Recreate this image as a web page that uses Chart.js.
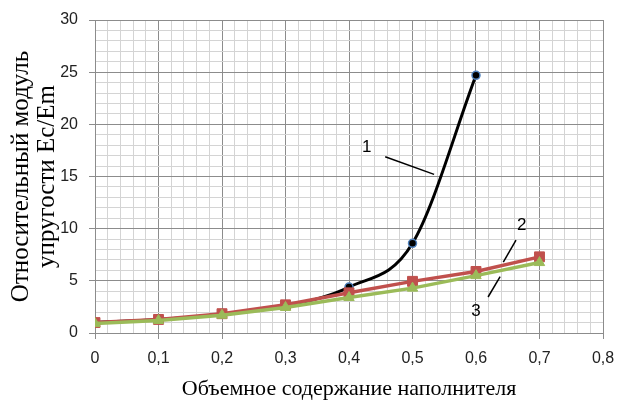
<!DOCTYPE html>
<html>
<head>
<meta charset="utf-8">
<script src="https://cdn.jsdelivr.net/npm/chart.js@4.4.1/dist/chart.umd.min.js"></script>
<style>
html,body{margin:0;padding:0;background:#fff;}
#wrap{width:617px;height:401px;}
</style>
</head>
<body>
<div id="wrap"><canvas id="c" width="617" height="401"></canvas></div>
<script>
// Data
const xValues = [0, 0.1, 0.2, 0.3, 0.4, 0.5, 0.6, 0.7];
const series1 = [1.0, 1.3, 1.8, 2.6, 4.4, 8.6, 24.7];
const series2 = [1.0, 1.3, 1.85, 2.7, 3.85, 4.95, 5.9, 7.3];
const series3 = [0.9, 1.2, 1.7, 2.45, 3.4, 4.3, 5.5, 6.75];
const seriesLabels = ['1', '2', '3'];
const xTitle = 'Объемное содержание наполнителя';
const yTitle = ['Относительный модуль', 'упругости Ес/Em'];

const toPts = (ys) => ys.map((y, i) => ({x: xValues[i], y: y}));

// annotation labels (in data units)
const notes = [
  {text: '1', tx: 0.428, ty: 17.8, line: [0.457, 16.9, 0.534, 15.2]},
  {text: '2', tx: 0.672, ty: 10.3, line: [0.663, 8.9, 0.643, 6.8]},
  {text: '3', tx: 0.600, ty: 2.1, line: [0.619, 3.45, 0.638, 5.4]}
];

const notePlugin = {
  id: 'notes',
  afterDatasetsDraw(chart) {
    const {ctx, scales: {x, y}} = chart;
    ctx.save();
    ctx.strokeStyle = '#000';
    ctx.lineWidth = 1.5;
    ctx.fillStyle = '#000';
    ctx.font = '17px "Liberation Sans", Arial, sans-serif';
    ctx.textAlign = 'center';
    ctx.textBaseline = 'middle';
    notes.forEach(n => {
      ctx.beginPath();
      ctx.moveTo(x.getPixelForValue(n.line[0]), y.getPixelForValue(n.line[1]));
      ctx.lineTo(x.getPixelForValue(n.line[2]), y.getPixelForValue(n.line[3]));
      ctx.stroke();
      ctx.fillText(n.text, x.getPixelForValue(n.tx), y.getPixelForValue(n.ty));
    });
    ctx.restore();
  }
};

const isMajorX = v => Math.abs(v * 10 - Math.round(v * 10)) < 1e-6;
const isMajorY = v => Math.abs(v / 5 - Math.round(v / 5)) < 1e-6;
const tickFont = {family: '"Liberation Sans", Arial, sans-serif', size: 16};
const titleFamily = '"Liberation Serif", "Times New Roman", serif';

new Chart(document.getElementById('c'), {
  type: 'line',
  data: {
    datasets: [
      {
        label: seriesLabels[0],
        data: toPts(series1),
        borderColor: '#000000',
        borderWidth: 3,
        pointStyle: 'circle',
        pointRadius: 4,
        pointBackgroundColor: '#000000',
        pointBorderColor: '#4F81BD',
        pointBorderWidth: 1.5,
        cubicInterpolationMode: 'monotone',
        order: 3
      },
      {
        label: seriesLabels[1],
        data: toPts(series2),
        borderColor: '#C0504D',
        borderWidth: 3.5,
        pointStyle: 'rect',
        pointRadius: 7,
        pointBackgroundColor: '#C0504D',
        pointBorderColor: '#C0504D',
        pointBorderWidth: 1,
        tension: 0,
        order: 2
      },
      {
        label: seriesLabels[2],
        data: toPts(series3),
        borderColor: '#9BBB59',
        borderWidth: 3.5,
        pointStyle: 'triangle',
        pointRadius: 6,
        pointBackgroundColor: '#9BBB59',
        pointBorderColor: '#9BBB59',
        pointBorderWidth: 1,
        tension: 0,
        order: 1
      }
    ]
  },
  options: {
    responsive: false,
    animation: false,
    devicePixelRatio: 1,
    layout: {padding: {top: 20, right: 14, left: 0, bottom: 0}},
    plugins: {legend: {display: false}, tooltip: {enabled: false}},
    scales: {
      x: {
        type: 'linear',
        min: 0, max: 0.8,
        afterFit: s => { s.height = 68; s.paddingLeft = 0; s.paddingRight = 0; },
        ticks: {
          stepSize: 0.02,
          autoSkip: false,
          maxRotation: 0,
          color: '#222',
          font: tickFont,
          padding: 10,
          callback: v => isMajorX(v) ? (Math.round(v * 10) / 10).toString().replace('.', ',') : ''
        },
        grid: {
          color: c => isMajorX(c.tick.value) ? '#8c8c8c' : '#d4d4d4',
          lineWidth: 1,
          tickLength: 6,
          tickColor: c => isMajorX(c.tick.value) ? '#8c8c8c' : 'rgba(0,0,0,0)'
        },
        border: {color: '#8c8c8c'},
        title: {
          display: true,
          text: xTitle,
          color: '#000',
          font: {family: titleFamily, size: 22, lineHeight: 1},
          padding: {top: 0, bottom: 1}
        }
      },
      y: {
        min: 0, max: 30,
        afterFit: s => { s.width = 95; s.paddingTop = 0; s.paddingBottom = 0; },
        ticks: {
          stepSize: 1,
          autoSkip: false,
          color: '#222',
          font: tickFont,
          padding: 11,
          callback: v => isMajorY(v) ? String(v) : ''
        },
        grid: {
          color: c => isMajorY(c.tick.value) ? '#8c8c8c' : '#d4d4d4',
          lineWidth: 1,
          tickLength: 6,
          tickColor: c => isMajorY(c.tick.value) ? '#8c8c8c' : 'rgba(0,0,0,0)'
        },
        border: {color: '#8c8c8c'},
        title: {
          display: true,
          text: yTitle,
          color: '#000',
          font: {family: titleFamily, size: 25, lineHeight: 1.04},
          padding: {top: 8, bottom: 0}
        }
      }
    }
  },
  plugins: [notePlugin]
});
</script>
</body>
</html>
